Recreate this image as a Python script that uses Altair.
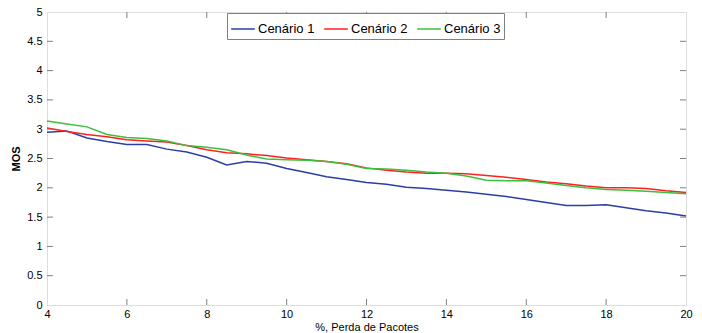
import altair as alt
import pandas as pd

x_vals = [4, 4.5, 5, 5.5, 6, 6.5, 7, 7.5, 8, 8.5, 9, 9.5, 10, 10.5, 11, 11.5, 12,
          12.5, 13, 13.5, 14, 14.5, 15, 15.5, 16, 16.5, 17, 17.5, 18, 18.5, 19, 19.5, 20]
cen1 = [2.95, 2.97, 2.85, 2.79, 2.74, 2.74, 2.66, 2.61, 2.52, 2.39, 2.45, 2.42, 2.33, 2.26,
        2.19, 2.14, 2.09, 2.06, 2.01, 1.99, 1.96, 1.93, 1.89, 1.85, 1.80, 1.75, 1.70, 1.70,
        1.71, 1.66, 1.61, 1.57, 1.52]
cen2 = [3.02, 2.96, 2.91, 2.87, 2.82, 2.80, 2.78, 2.72, 2.65, 2.60, 2.58, 2.55, 2.51, 2.48,
        2.45, 2.41, 2.34, 2.30, 2.27, 2.25, 2.25, 2.24, 2.21, 2.18, 2.14, 2.10, 2.07, 2.03,
        2.00, 2.00, 1.99, 1.95, 1.92]
cen3 = [3.14, 3.09, 3.04, 2.91, 2.86, 2.84, 2.80, 2.72, 2.69, 2.65, 2.56, 2.49, 2.48, 2.47,
        2.45, 2.40, 2.33, 2.32, 2.30, 2.27, 2.25, 2.20, 2.13, 2.12, 2.12, 2.08, 2.04, 2.00,
        1.97, 1.96, 1.94, 1.92, 1.90]
series_names = ["Cenário 1", "Cenário 2", "Cenário 3"]
series_colors = ["#2b3ea8", "#ff2020", "#3cbf3c"]
x_ticks = [4, 6, 8, 10, 12, 14, 16, 18, 20]
y_ticks = [0, 0.5, 1, 1.5, 2, 2.5, 3, 3.5, 4, 4.5, 5]

rows = []
for name, vals in zip(series_names, [cen1, cen2, cen3]):
    for xv, yv in zip(x_vals, vals):
        rows.append({"x": xv, "y": yv, "s": name})
df = pd.DataFrame(rows)

W, H = 639, 293
FONT = "Liberation Sans"
AX = "#808080"

xs = alt.Scale(domain=[4, 20], nice=False, zero=False)
ys = alt.Scale(domain=[0, 5], nice=False, zero=False)

x_axis = alt.Axis(values=x_ticks, title="%, Perda de Pacotes",
                  tickSize=0, domain=False, grid=False,
                  labelPadding=3, titlePadding=2,
                  labelFlush=False, labelOverlap=False, format="~g",
                  labelFontSize=11, titleFontSize=11,
                  titleFontWeight="normal", labelColor="#000",
                  titleColor="#000", labelFont=FONT, titleFont=FONT)
y_axis = alt.Axis(values=y_ticks, title="MOS", tickSize=0,
                  domain=False, grid=False, labelPadding=5,
                  labelFlush=False, labelOverlap=False, format="~g",
                  titlePadding=5, labelFontSize=11,
                  titleFontSize=11, titleFontWeight="bold",
                  labelColor="#000", titleColor="#000",
                  labelFont=FONT, titleFont=FONT)

lines = alt.Chart(df).mark_line(strokeWidth=1.5).encode(
    x=alt.X("x:Q", scale=xs, axis=x_axis),
    y=alt.Y("y:Q", scale=ys, axis=y_axis),
    color=alt.Color("s:N", scale=alt.Scale(domain=series_names, range=series_colors),
                    legend=alt.Legend(title=None, orient="none", legendX=180, legendY=1,
                                      direction="horizontal", symbolType="stroke",
                                      symbolSize=560, symbolStrokeWidth=1.5,
                                      labelFontSize=13, labelFont=FONT, labelColor="#000",
                                      labelOffset=2, columnPadding=6, padding=3,
                                      fillColor="white", strokeColor=AX,
                                      labelLimit=200)),
)

xt_df = pd.DataFrame({"x": x_ticks[1:-1]})
yt_df = pd.DataFrame({"y": y_ticks[1:-1]})
TL = 6
xt_bottom = alt.Chart(xt_df).mark_rule(color=AX).encode(
    x=alt.X("x:Q", scale=xs, axis=x_axis), y=alt.value(H), y2=alt.value(H - TL))
xt_top = alt.Chart(xt_df).mark_rule(color=AX).encode(
    x=alt.X("x:Q", scale=xs, axis=x_axis), y=alt.value(0), y2=alt.value(TL))
yt_left = alt.Chart(yt_df).mark_rule(color=AX).encode(
    y=alt.Y("y:Q", scale=ys, axis=y_axis), x=alt.value(0), x2=alt.value(TL))
yt_right = alt.Chart(yt_df).mark_rule(color=AX).encode(
    y=alt.Y("y:Q", scale=ys, axis=y_axis), x=alt.value(W), x2=alt.value(W - TL))

chart = alt.layer(lines, xt_bottom, xt_top, yt_left, yt_right).properties(
    width=W, height=H,
    autosize=alt.AutoSizeParams(type="none"),
    padding={"left": 47, "top": 12, "right": 16, "bottom": 28},
).configure_view(stroke=AX, strokeWidth=1).configure(background="white")

chart.save("out.html", embed_options={"renderer": "svg", "actions": False})
